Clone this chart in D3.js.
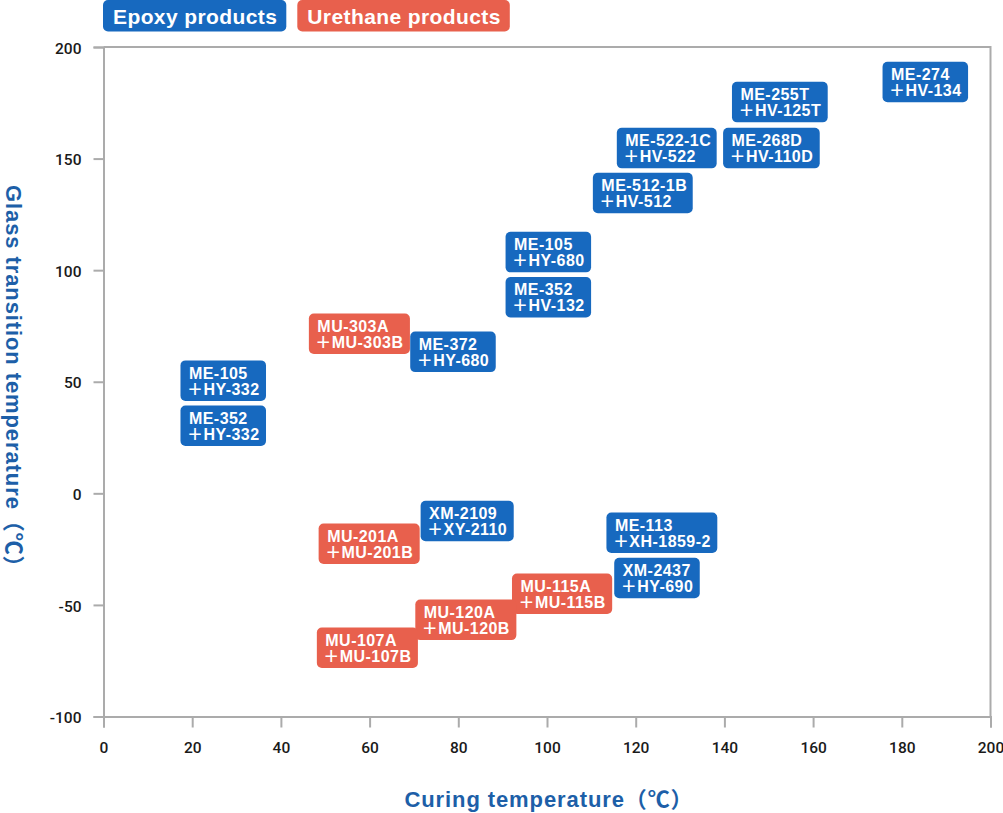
<!DOCTYPE html>
<html>
<head>
<meta charset="utf-8">
<script src="https://cdn.jsdelivr.net/npm/d3@7"></script>
<style>
  html, body { margin: 0; padding: 0; background: #fff; }
  svg { display: block; }
</style>
</head>
<body>
<svg id="chart" width="1003" height="813"></svg>
<script>
// ---- data ----
const xTicks = [0, 20, 40, 60, 80, 100, 120, 140, 160, 180, 200];
const yTicks = [-100, -50, 0, 50, 100, 150, 200];
const legendLabels = ["Epoxy products", "Urethane products"];
const productTypes = ["epoxy", "urethane"];

const resinNames = ["ME-105", "ME-352", "MU-303A", "ME-372", "ME-105", "ME-352",
  "ME-512-1B", "ME-522-1C", "ME-268D", "ME-255T", "ME-274",
  "XM-2109", "MU-201A", "ME-113", "XM-2437", "MU-115A", "MU-120A", "MU-107A"];
const hardenerNames = ["＋HY-332", "＋HY-332", "＋MU-303B", "＋HY-680", "＋HY-680", "＋HV-132",
  "＋HV-512", "＋HV-522", "＋HV-110D", "＋HV-125T", "＋HV-134",
  "＋XY-2110", "＋MU-201B", "＋XH-1859-2", "＋HY-690", "＋MU-115B", "＋MU-120B", "＋MU-107B"];
const curingTemp = [27, 27, 57.7, 78.8, 100.3, 100.3,
  121.6, 127, 150.6, 152.5, 185.3,
  82, 59.9, 125.9, 124.8, 103.4, 81.7, 59.5];
const glassTemp = [50.5, 30.3, 71.5, 63.4, 108.1, 87.9,
  134.6, 154.7, 154.7, 175.3, 184.3,
  -12.4, -22.6, -17.7, -37.9, -45, -56.7, -69.2];
const typeOf = ["epoxy", "epoxy", "urethane", "epoxy", "epoxy", "epoxy",
  "epoxy", "epoxy", "epoxy", "epoxy", "epoxy",
  "epoxy", "urethane", "epoxy", "epoxy", "urethane", "urethane", "urethane"];

// ---- styles ----
const colors = { epoxy: "#1769bf", urethane: "#e8604d" };
const titleColor = "#1d5fa8";
const axisColor = "#ababab";
const labelFont = "'Liberation Sans', 'Noto Sans CJK JP', sans-serif";

const svg = d3.select("#chart");
const x = d3.scaleLinear().domain([0, 200]).range([103.5, 990.5]);
const y = d3.scaleLinear().domain([-100, 200]).range([716.5, 47]);

// frame (top & right)
svg.append("path")
  .attr("d", `M${x(0)},${y(200)}H${x(200)}V${y(-100)}`)
  .attr("fill", "none").attr("stroke", axisColor).attr("stroke-width", 2);

// axes
const xAxis = svg.append("g").attr("transform", `translate(0,${y(-100)})`)
  .call(d3.axisBottom(x).tickValues(xTicks).tickSize(11).tickPadding(14).tickFormat(d => String(d)));
const yAxis = svg.append("g").attr("transform", `translate(${x(0)},0)`)
  .call(d3.axisLeft(y).tickValues(yTicks).tickSize(10).tickPadding(12).tickFormat(d => String(d)));
[xAxis, yAxis].forEach(g => {
  g.selectAll("path.domain").attr("stroke", axisColor).attr("stroke-width", 2);
  g.selectAll(".tick line").attr("stroke", axisColor).attr("stroke-width", 2);
  g.selectAll(".tick text").attr("fill", "#1a1a1a")
    .style("font-family", "Roboto, 'Liberation Sans', sans-serif")
    .style("font-size", "15.5px").style("font-weight", "500");
});
yAxis.selectAll(".tick text").attr("dy", "0.4em");

// axis titles
svg.append("text")
  .attr("x", x(100) + 2).attr("y", 807)
  .attr("text-anchor", "middle")
  .attr("fill", titleColor)
  .style("font-family", labelFont).style("font-size", "22px").style("font-weight", "bold")
  .style("letter-spacing", "0.9px")
  .text("Curing temperature（℃）");
svg.append("text")
  .attr("transform", `translate(6,${(y(-100) + y(200)) / 2}) rotate(90)`)
  .attr("text-anchor", "middle")
  .attr("fill", titleColor)
  .style("font-family", labelFont).style("font-size", "22px").style("font-weight", "bold")
  .style("letter-spacing", "0.9px")
  .text("Glass transition temperature（℃）");

// legend
let lx = 103;
legendLabels.forEach((lab, i) => {
  const g = svg.append("g");
  const t = g.append("text")
    .attr("x", lx + 10).attr("y", 24)
    .attr("fill", "#fff")
    .style("font-family", labelFont).style("font-size", "21px").style("font-weight", "bold")
    .style("letter-spacing", "0.4px")
    .text(lab);
  const w = t.node().getComputedTextLength();
  g.insert("rect", "text")
    .attr("x", lx).attr("y", 0)
    .attr("width", w + 19).attr("height", 31.5)
    .attr("rx", 5).attr("fill", colors[productTypes[i]]);
  lx += w + 19 + 11;
});

// product labels
const boxH = 40.5;
resinNames.forEach((name, i) => {
  const g = svg.append("g");
  const cx = x(curingTemp[i]);
  const cy = y(glassTemp[i]);
  const t1 = g.append("text").attr("fill", "#fff")
    .style("font-family", labelFont).style("font-size", "16px").style("font-weight", "bold")
    .style("letter-spacing", "0.45px")
    .text(name);
  const t2 = g.append("text").attr("fill", "#fff")
    .style("font-family", labelFont).style("font-size", "16px").style("font-weight", "bold")
    .style("letter-spacing", "0.45px")
    .text(hardenerNames[i]);
  const w = Math.max(t1.node().getComputedTextLength(), t2.node().getComputedTextLength() - 1) + 14;
  const left = cx - w / 2, top = cy - boxH / 2;
  t1.attr("x", left + 8.5).attr("y", top + 18.5);
  t2.attr("x", left + 6.5).attr("y", top + 34.5);
  g.insert("rect", "text")
    .attr("x", left).attr("y", top)
    .attr("width", w).attr("height", boxH)
    .attr("rx", 5).attr("fill", colors[typeOf[i]]);
});
</script>
</body>
</html>
